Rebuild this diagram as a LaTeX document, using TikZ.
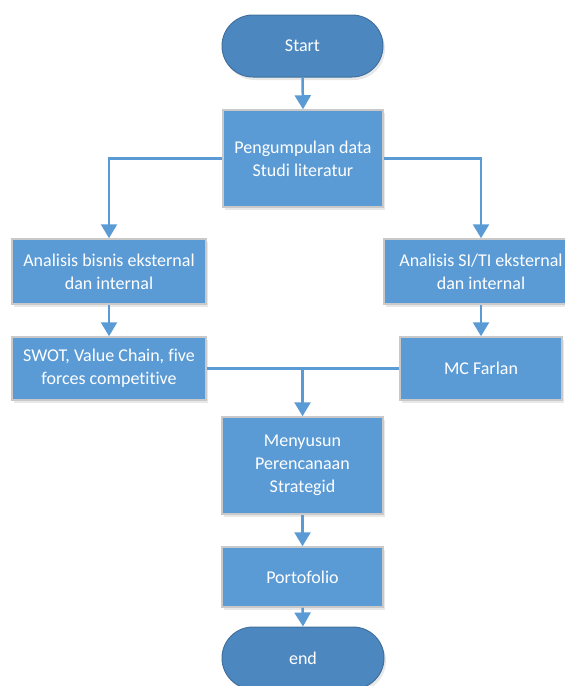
\documentclass[tikz,border=0pt]{standalone}
\usepackage{fontspec}
\setmainfont[Ligatures={NoCommon}]{Carlito}
\usetikzlibrary{arrows.meta,shadows}
\definecolor{boxblue}{HTML}{5B9BD5}
\definecolor{termblue}{HTML}{4C87C0}
\definecolor{termline}{HTML}{41719C}
\definecolor{boxline}{HTML}{C9C9C9}
\tikzset{
  base/.style={text=white, align=center, inner sep=0pt,
    font=\fontsize{18}{23}\selectfont,
    drop shadow={opacity=0.18, shadow xshift=2pt, shadow yshift=-3pt}},
  procbox/.style={base, rectangle, fill=boxblue, draw=boxline, line width=1.5pt},
  termbox/.style={base, rectangle, rounded corners=31pt, fill=termblue, draw=termline, line width=1pt},
  conn/.style={draw=boxblue, line width=2.5pt},
  arr/.style={conn, -{Triangle[width=16pt,length=14pt]}},
}
\begin{document}
\begin{tikzpicture}[x=1pt,y=-1pt]
\useasboundingbox (0,0) rectangle (565,686);
\node[termbox, minimum width=161pt, minimum height=62pt] (start) at (302.5,46) {Start};
\node[procbox, minimum width=160pt, minimum height=97pt] (collect) at (303,158.5) {Pengumpulan data\\Studi literatur};
\node[procbox, minimum width=194pt, minimum height=65pt] (bisnis) at (109,271.5) {Analisis bisnis eksternal\\dan internal};
\node[procbox, minimum width=194pt, minimum height=65pt] (siti) at (481,271.5) {Analisis SI/TI eksternal\\dan internal};
\node[procbox, minimum width=194pt, minimum height=63pt] (swot) at (109,368.5) {SWOT, Value Chain, five\\forces competitive};
\node[procbox, minimum width=162pt, minimum height=63pt] (mc) at (481,368.5) {MC Farlan};
\node[procbox, minimum width=161pt, minimum height=97pt] (menyusun) at (302.5,465.5) {Menyusun\\Perencanaan\\Strategid};
\node[procbox, minimum width=161pt, minimum height=60pt] (porto) at (302.5,577) {Portofolio};
\node[termbox, minimum width=162pt, minimum height=62pt] (end) at (303,658) {end};
\coordinate (merge) at (302.5,368.5);

\draw[arr] (start.south) -- (collect.north);
\draw[arr] (collect.west) -| (bisnis.north);
\draw[arr] (collect.east) -| (siti.north);
\draw[arr] (bisnis.south) -- (swot.north);
\draw[arr] (siti.south) -- (mc.north);
\draw[conn] (swot.east) -- (merge);
\draw[conn] (mc.west) -- (merge);
\draw[arr] (merge) -- (menyusun.north);
\draw[arr] (menyusun.south) -- (porto.north);
\draw[arr] (porto.south) -- (end.north);
\end{tikzpicture}
\end{document}
